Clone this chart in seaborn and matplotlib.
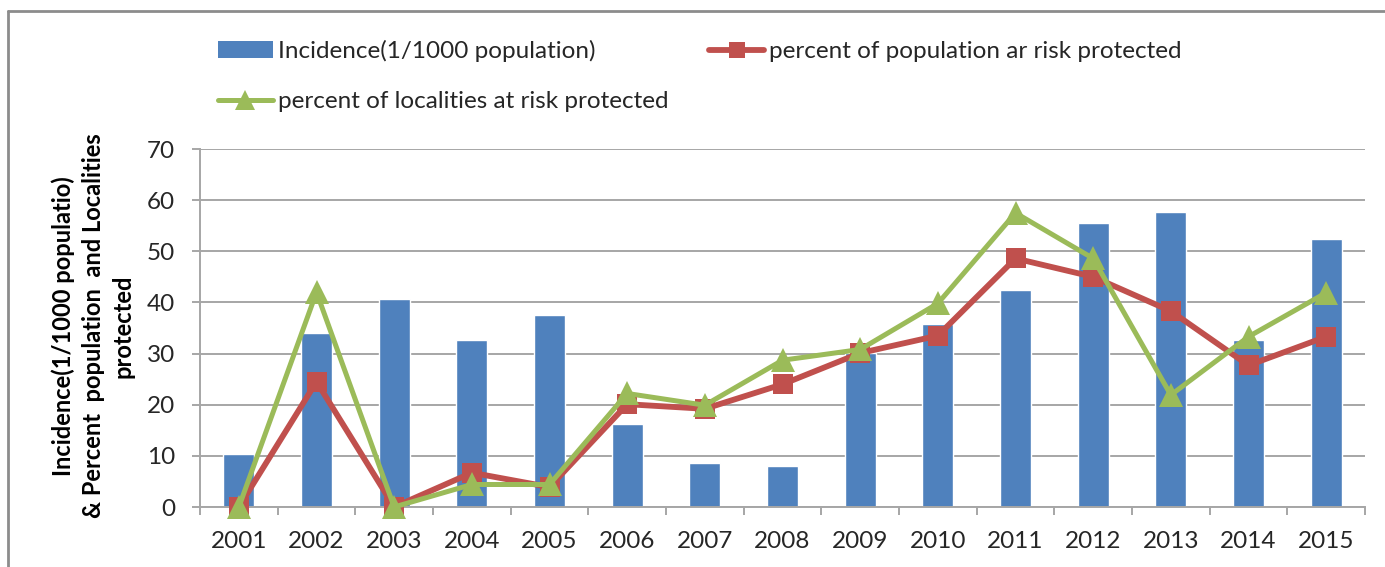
import matplotlib
matplotlib.use("Agg")
import matplotlib.pyplot as plt
from matplotlib.lines import Line2D
from matplotlib.patches import Patch
from matplotlib.ticker import FixedLocator
import seaborn as sns

years = ["2001", "2002", "2003", "2004", "2005", "2006", "2007", "2008",
         "2009", "2010", "2011", "2012", "2013", "2014", "2015"]
incidence = [10.4, 34.0, 40.6, 32.6, 37.6, 16.2, 8.7, 8.0,
             30.2, 35.7, 42.5, 55.6, 57.6, 32.7, 52.5]
pop_protected = [0.0, 24.5, 0.0, 6.7, 3.9, 20.1, 19.2, 24.0,
                 30.1, 33.5, 48.6, 45.0, 38.3, 27.7, 33.3]
loc_protected = [0.0, 42.0, 0.0, 4.4, 4.4, 22.2, 19.9, 28.7,
                 30.8, 39.8, 57.5, 48.6, 21.9, 33.3, 41.9]

label_inc = "Incidence(1/1000 population)"
label_pop = "percent of population ar risk protected"
label_loc = "percent of localities at risk protected"
y_ticks = [0, 10, 20, 30, 40, 50, 60, 70]

BLUE = "#4F81BD"
RED = "#C0504D"
GREEN = "#9BBB59"
GRID = "#A6A6A6"
TEXT = "#262626"
FS = 17.5

sns.set_theme(style="white")
plt.rcParams["font.family"] = ["Lato", "DejaVu Sans"]

fig = plt.figure(figsize=(13.85, 5.67), dpi=100)
ax = fig.add_axes([200 / 1385, 1 - 507 / 567, 1165 / 1385, 358 / 567])

sns.barplot(x=years, y=incidence, color=BLUE, width=0.4, saturation=1,
            ax=ax, zorder=2)
sns.pointplot(x=years, y=pop_protected, color=RED, markers="s",
              linestyles="-", errorbar=None, ax=ax,
              markersize=14, linewidth=4.2, markeredgewidth=0, zorder=4)
sns.pointplot(x=years, y=loc_protected, color=GREEN, markers="^",
              linestyles="-", errorbar=None, ax=ax,
              markersize=17, linewidth=3.6, markeredgewidth=0, zorder=5)
for line in ax.lines:
    line.set_clip_on(False)

ax.set_xlim(-0.5, len(years) - 0.5)
ax.set_ylim(0, 70)
ax.set_yticks(y_ticks)
ax.set_xlabel("")
ax.set_ylabel("")
ax.set_axisbelow(True)
ax.yaxis.grid(True, color=GRID, linewidth=1.4)
ax.xaxis.grid(False)

for side in ("top", "right"):
    ax.spines[side].set_visible(False)
for side in ("left", "bottom"):
    ax.spines[side].set_color(GRID)
    ax.spines[side].set_linewidth(1.4)

ax.xaxis.set_minor_locator(FixedLocator([i - 0.5 for i in range(len(years) + 1)]))
ax.tick_params(axis="x", which="major", length=0, pad=17,
               labelsize=FS, labelcolor=TEXT)
ax.tick_params(axis="x", which="minor", length=6, width=1.4, color=GRID,
               direction="out", bottom=True)
ax.tick_params(axis="y", which="major", length=6, width=1.4, color=GRID,
               direction="out", left=True, pad=12, labelsize=FS,
               labelcolor=TEXT)

fig.text(93 / 1385, 1 - 326 / 567,
         "Incidence(1/1000 populatio)\n& Percent  population  and Localities\nprotected",
         rotation=90, ha="center", va="center", fontsize=17,
         fontweight="bold", color="#000000", linespacing=1.35,
         multialignment="center")

handles = [
    Patch(facecolor=BLUE, edgecolor="none", label=label_inc),
    Line2D([], [], color=GREEN, linewidth=3.6, marker="^", markersize=14,
           markeredgewidth=0, label=label_loc),
    Line2D([], [], color=RED, linewidth=4.2, marker="s", markersize=12,
           markeredgewidth=0, label=label_pop),
]
fig.legend(handles=handles, ncol=2, loc="upper left",
           bbox_to_anchor=(218 / 1385, 1 - 40 / 567),
           frameon=False, fontsize=FS, handlelength=2.25,
           handleheight=0.65, handletextpad=0.2, columnspacing=1.7,
           labelspacing=1.2, borderpad=0, borderaxespad=0,
           labelcolor=TEXT)

# outer chart frame (top and left edges)
fig.add_artist(Line2D([8 / 1385, 1.0], [1 - 11 / 567, 1 - 11 / 567],
                      transform=fig.transFigure, color="#8C8C8C",
                      linewidth=2))
fig.add_artist(Line2D([8 / 1385, 8 / 1385], [0.0, 1 - 11 / 567],
                      transform=fig.transFigure, color="#8C8C8C",
                      linewidth=2))

fig.savefig("out.png", dpi=100)
